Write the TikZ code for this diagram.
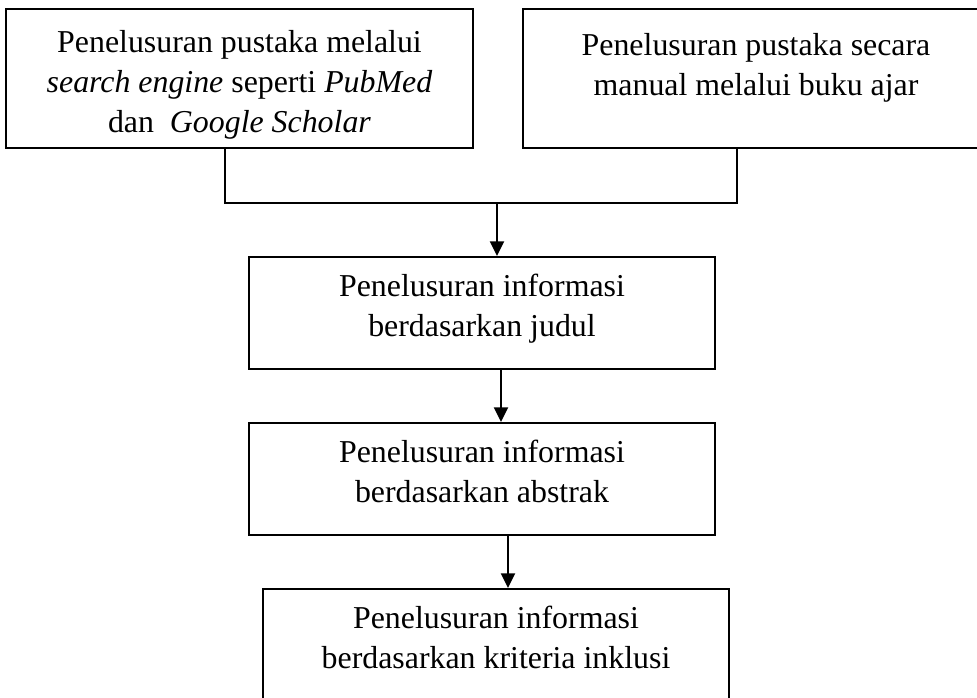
\documentclass[tikz,border=0pt]{standalone}
\usepackage{fontspec}
\setmainfont{Liberation Serif}
\usepackage{tikz}
\usetikzlibrary{arrows.meta}
\newcommand{\topgap}{\rule{0pt}{26pt}}
\newcommand{\botgap}{\rule[-11pt]{0pt}{11pt}}
\tikzstyle{block}=[draw,line width=1.5pt,align=center,inner sep=0pt,minimum width=350pt,font=\fontsize{23.9}{30}\selectfont]
\tikzstyle{joint}=[draw,line width=0.8pt,-]

\begin{document}
\begin{tikzpicture}[x=0.75pt,y=-0.75pt]
      \tikzset{flow/.style={draw,line width=1.5pt,-{Triangle[length=11pt,width=10.5pt]}}}
      \useasboundingbox (0,0) rectangle (977,697);
      \node[block,minimum height=104pt] (search) at (239.5,78.5) {\topgap Penelusuran pustaka melalui\\ \textit{search engine} seperti \textit{PubMed}\\ dan\ \ \textit{Google Scholar}};
      \node[block,minimum height=104pt] (manual) at (756,78.5) {\topgap Penelusuran pustaka secara\\ manual melalui buku ajar\\ \vphantom{dG}};
      \node[block,minimum height=84pt] (judul) at (482,313) {Penelusuran informasi\\ berdasarkan judul\botgap};
      \node[block,minimum height=84pt] (abstrak) at (482,479) {Penelusuran informasi\\ berdasarkan abstrak\botgap};
      \node[block,minimum height=84pt] (inklusi) at (496,645) {Penelusuran informasi\\ berdasarkan kriteria inklusi\botgap};
      \coordinate (ja) at (225,203);
      \coordinate (jb) at (737,203);
      \coordinate (jm) at (497,203);
      \draw[joint] (search.south -| ja) -- (ja) -- (jb) -- (manual.south -| jb);
      \draw[flow] (jm) -- (jm |- judul.north);
      \draw[flow] ([xshift=14.25pt]judul.south) -- ([xshift=14.25pt]abstrak.north);
      \draw[flow] ([xshift=19.5pt]abstrak.south) -- ([xshift=19.5pt]abstrak.south |- inklusi.north);
    \end{tikzpicture}
\end{document}
